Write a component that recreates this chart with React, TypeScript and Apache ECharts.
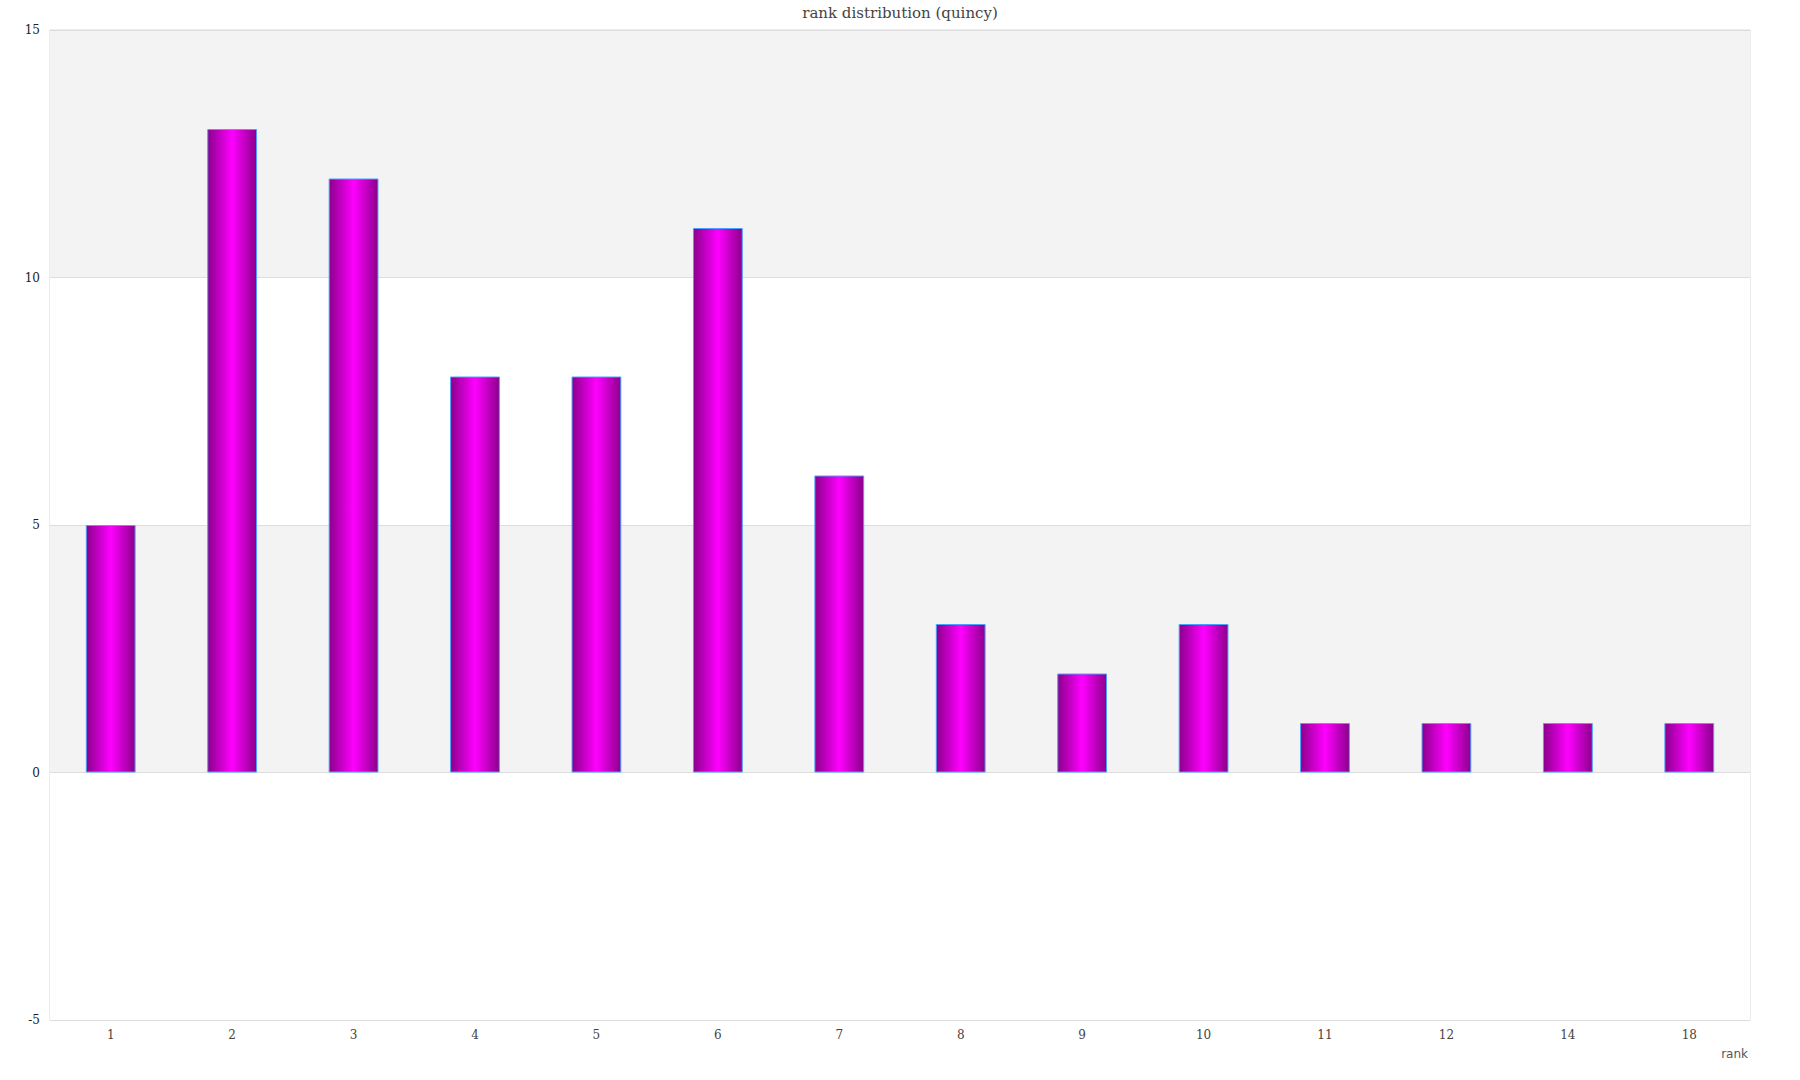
import React, { useEffect, useRef } from "react";
import * as echarts from "echarts";

const categories = ["1", "2", "3", "4", "5", "6", "7", "8", "9", "10", "11", "12", "14", "18"];
const counts = [5, 13, 12, 8, 8, 11, 6, 3, 2, 3, 1, 1, 1, 1];
const yMin = -5;
const yMax = 15;
const yInterval = 5;
const titleText = "rank distribution (quincy)";
const xName = "rank";

export default function App() {
  const ref = useRef<HTMLDivElement>(null);
  useEffect(() => {
    if (!ref.current) return;
    const chart = echarts.init(ref.current, undefined, { renderer: "svg" });
    const serif = '"DejaVu Serif", "Liberation Serif", serif';
    chart.setOption({
      animation: false,
      backgroundColor: "#ffffff",
      title: {
        text: titleText,
        left: "center",
        top: 0,
        textStyle: { fontFamily: serif, fontSize: 15, fontWeight: "normal", color: "#444" },
      },
      grid: {
        left: 50,
        right: 50,
        top: 30,
        bottom: 60,
        show: true,
        borderColor: "#d9d9d9",
        borderWidth: 1,
        backgroundColor: "transparent",
      },
      xAxis: {
        type: "category",
        data: categories,
        axisLine: { show: false },
        axisTick: { show: false },
        axisLabel: { fontFamily: serif, fontSize: 12, color: "#444", margin: 9 },
        splitLine: { show: false },
      },
      yAxis: {
        type: "value",
        min: yMin,
        max: yMax,
        interval: yInterval,
        axisLine: { show: false },
        axisTick: { show: false },
        axisLabel: { fontFamily: serif, fontSize: 12, color: "#222", margin: 10 },
        splitLine: { show: true, lineStyle: { color: "#dddddd", width: 1 } },
        splitArea: { show: true, areaStyle: { color: ["#ffffff", "#f3f3f3"] } },
      },
      graphic: [
        {
          type: "text",
          right: 52,
          top: 1048,
          style: {
            text: xName,
            font: '12px "DejaVu Sans", sans-serif',
            fill: "#555",
          },
        },
      ],
      series: [
        {
          type: "bar",
          data: counts,
          barWidth: "41%",
          itemStyle: {
            color: new echarts.graphic.LinearGradient(0, 0, 1, 0, [
              { offset: 0, color: "#8b008b" },
              { offset: 0.5, color: "#ff00ff" },
              { offset: 1, color: "#8b008b" },
            ]),
            borderColor: "#4aa0ff",
            borderWidth: 1,
          },
        },
      ],
    });
    return () => chart.dispose();
  }, []);
  return (
    <div
      ref={ref}
      style={{ position: "absolute", left: 0, top: 0, width: 1800, height: 1080 }}
    />
  );
}
